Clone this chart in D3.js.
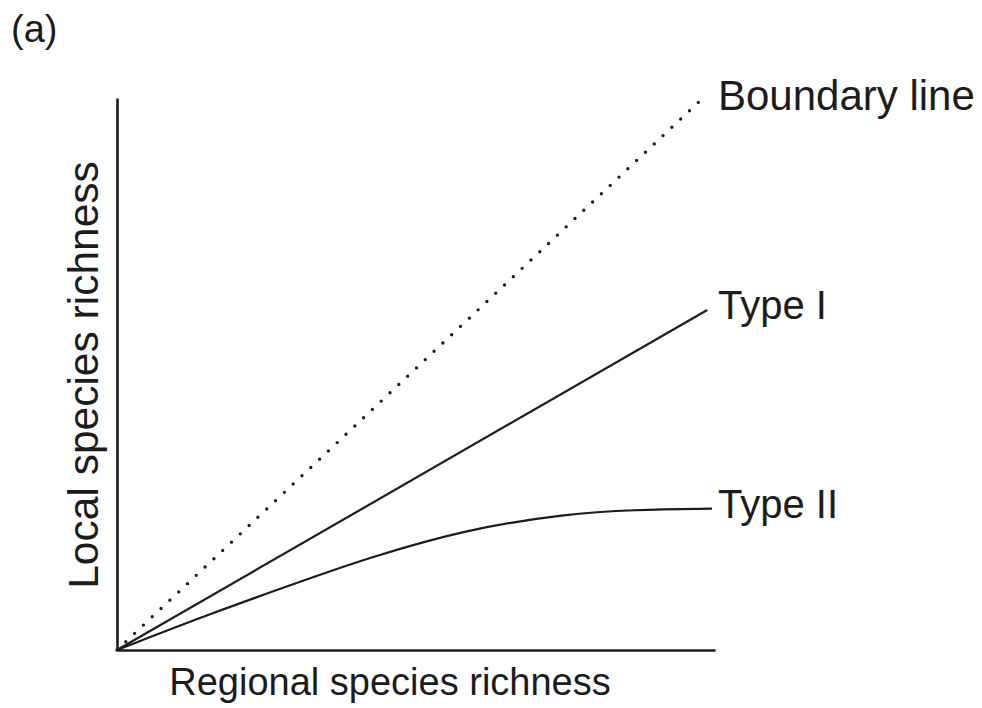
<!DOCTYPE html>
<html>
<head>
<meta charset="utf-8">
<script src="https://cdn.jsdelivr.net/npm/d3@7"></script>
<style>
  html, body { margin: 0; padding: 0; background: #fff; }
  svg { display: block; }
  text { font-family: "Liberation Sans", Arial, Helvetica, sans-serif; fill: #1c1c1c; }
</style>
</head>
<body>
<svg id="chart" width="982" height="708"></svg>
<script>
// Conceptual relationship between regional and local species richness
const seriesNames = ["Boundary line", "Type I", "Type II"];
const boundaryLine = [[0, 0], [97.5, 99.5]];
const typeI = [[0, 0], [98.7, 61.6]];
const typeII = [[0, 0], [15.6, 6.6], [32.3, 13.0], [41.8, 16.6], [58.5, 21.9], [75.3, 24.7], [86.3, 25.4], [99.5, 25.6]];
const xTitle = "Regional species richness";
const yTitle = "Local species richness";
const panelLabel = "(a)";

const svg = d3.select("#chart");
const x = d3.scaleLinear().domain([0, 100]).range([117, 715]);
const y = d3.scaleLinear().domain([0, 100]).range([650, 98]);
const ink = "#1c1c1c";

// axes without ticks
svg.append("g")
  .attr("transform", `translate(0,${y(0)})`)
  .call(d3.axisBottom(x).tickValues([]).tickSizeOuter(0))
  .call(g => g.select(".domain").attr("stroke", ink).attr("stroke-width", 2.6));
svg.append("g")
  .attr("transform", `translate(${x(0)},0)`)
  .call(d3.axisLeft(y).tickValues([]).tickSizeOuter(0))
  .call(g => g.select(".domain").attr("stroke", ink).attr("stroke-width", 2.6));

const line = d3.line().x(d => x(d[0])).y(d => y(d[1]));
const curve = d3.line().x(d => x(d[0])).y(d => y(d[1])).curve(d3.curveBasis);

svg.append("path").datum(boundaryLine)
  .attr("d", line).attr("fill", "none").attr("stroke", ink)
  .attr("stroke-width", 3.4).attr("stroke-linecap", "round")
  .attr("stroke-dasharray", "0 12.1");
svg.append("path").datum(typeI)
  .attr("d", line).attr("fill", "none").attr("stroke", ink).attr("stroke-width", 2.2);
svg.append("path").datum(typeII)
  .attr("d", curve).attr("fill", "none").attr("stroke", ink).attr("stroke-width", 2.2);

// end-of-line labels
const labelSizes = [42, 40, 40];
[boundaryLine, typeI, typeII].forEach((s, i) => {
  const last = s[s.length - 1];
  svg.append("text")
    .attr("x", 718)
    .attr("y", y(last[1]) + 9)
    .attr("font-size", labelSizes[i])
    .text(seriesNames[i]);
});

// axis titles
svg.append("text")
  .attr("x", (x(0) + x(100)) / 2 - 26)
  .attr("y", 695)
  .attr("text-anchor", "middle")
  .attr("font-size", 38)
  .text(xTitle);
svg.append("text")
  .attr("transform", `translate(98,375) rotate(-90)`)
  .attr("text-anchor", "middle")
  .attr("font-size", 42.5)
  .text(yTitle);

svg.append("text")
  .attr("x", 11)
  .attr("y", 42)
  .attr("font-size", 38)
  .text(panelLabel);
</script>
</body>
</html>
